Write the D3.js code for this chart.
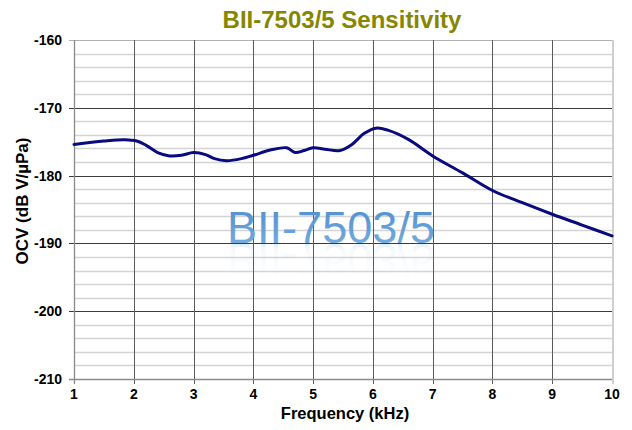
<!DOCTYPE html>
<html>
<head>
<meta charset="utf-8">
<script src="https://cdn.jsdelivr.net/npm/d3@7"></script>
<style>
  body { margin: 0; background: #fff; }
  svg { display: block; }
  text { font-family: "Liberation Sans", Arial, sans-serif; }
</style>
</head>
<body>
<svg id="chart" width="632" height="430"></svg>
<script>
// values
var freq = [1, 1.5, 1.85, 2.05, 2.2, 2.4, 2.6, 2.8, 3.0, 3.2, 3.35, 3.55, 3.8, 4.0, 4.3, 4.56, 4.7, 4.85, 5.0, 5.2, 5.45, 5.65, 5.85, 6.05, 6.25, 6.6, 7.0, 7.5, 8.0, 8.5, 9.0, 9.5, 10];
var ocv = [-175.4, -174.9, -174.7, -174.9, -175.5, -176.6, -177.1, -177.0, -176.6, -176.9, -177.5, -177.8, -177.5, -177.0, -176.2, -175.9, -176.6, -176.3, -175.9, -176.1, -176.3, -175.4, -173.8, -173.0, -173.3, -174.7, -177.1, -179.6, -182.2, -184.0, -185.7, -187.3, -188.9];
var xTicks = [1, 2, 3, 4, 5, 6, 7, 8, 9, 10];
var yTicks = [-210, -200, -190, -180, -170, -160];
var yMinor = d3.range(-208, -160, 2);

var svg = d3.select("#chart");
var pl = 74, pr = 612, pt = 40, pb = 379;

var x = d3.scaleLinear().domain([1, 10]).range([pl, pr]);
var y = d3.scaleLinear().domain([-210, -160]).range([pb, pt]);

// minor horizontal grid
svg.append("g").selectAll("line").data(yMinor.filter(function(d){ return d % 10 != 0; }))
  .enter().append("line")
  .attr("x1", pl).attr("x2", pr)
  .attr("y1", function(d){ return Math.round(y(d)) + 0.5; })
  .attr("y2", function(d){ return Math.round(y(d)) + 0.5; })
  .attr("stroke", "#d4d4d4").attr("stroke-width", 1.3);

// major horizontal grid
svg.append("g").selectAll("line").data(yTicks.slice(1, -1))
  .enter().append("line")
  .attr("x1", pl - 5).attr("x2", pr)
  .attr("y1", function(d){ return Math.round(y(d)) + 0.5; })
  .attr("y2", function(d){ return Math.round(y(d)) + 0.5; })
  .attr("stroke", "#3a3a3a").attr("stroke-width", 1);
svg.append("line").attr("x1", pl - 5).attr("x2", pr)
  .attr("y1", Math.round(y(-160)) + 0.5).attr("y2", Math.round(y(-160)) + 0.5)
  .attr("stroke", "#b0b0b0").attr("stroke-width", 1);

// vertical grid
svg.append("g").selectAll("line").data(xTicks.slice(1, -1))
  .enter().append("line")
  .attr("x1", function(d){ return Math.round(x(d)) + 0.5; })
  .attr("x2", function(d){ return Math.round(x(d)) + 0.5; })
  .attr("y1", pt).attr("y2", pb + 5)
  .attr("stroke", "#5a5a5a").attr("stroke-width", 1);

// right border
svg.append("line").attr("x1", pr + 1).attr("x2", pr + 1)
  .attr("y1", pt).attr("y2", pb + 5)
  .attr("stroke", "#cfcfcf").attr("stroke-width", 2);

// axes lines
svg.append("line").attr("x1", pl + 0.5).attr("x2", pl + 0.5)
  .attr("y1", pt).attr("y2", pb + 5)
  .attr("stroke", "#8a8a8a").attr("stroke-width", 1.3);
svg.append("line").attr("x1", pl - 5).attr("x2", pr)
  .attr("y1", pb + 0.5).attr("y2", pb + 0.5)
  .attr("stroke", "#8a8a8a").attr("stroke-width", 1.5);

// y tick labels
svg.append("g").selectAll("text").data(yTicks)
  .enter().append("text")
  .attr("x", 62).attr("y", function(d){ return y(d) + 5; })
  .attr("text-anchor", "end")
  .attr("font-size", 14).attr("font-weight", "bold")
  .text(function(d){ return d; });

// x tick labels
svg.append("g").selectAll("text").data(xTicks)
  .enter().append("text")
  .attr("x", function(d){ return x(d); }).attr("y", 399)
  .attr("text-anchor", "middle")
  .attr("font-size", 14).attr("font-weight", "bold")
  .text(function(d){ return d; });

// watermark with reflection
var defs = svg.append("defs");
var g1 = defs.append("linearGradient").attr("id", "wm").attr("x1", 0).attr("y1", 0).attr("x2", 0).attr("y2", 1);
g1.append("stop").attr("offset", "0%").attr("stop-color", "#4c8cce");
g1.append("stop").attr("offset", "100%").attr("stop-color", "#7cb1e2");
var g2 = defs.append("linearGradient").attr("id", "wmr").attr("x1", 0).attr("y1", 0).attr("x2", 0).attr("y2", 1);
g2.append("stop").attr("offset", "0%").attr("stop-color", "#9cc5ec").attr("stop-opacity", 0);
g2.append("stop").attr("offset", "70%").attr("stop-color", "#9cc5ec").attr("stop-opacity", 0.1);
g2.append("stop").attr("offset", "100%").attr("stop-color", "#9cc5ec").attr("stop-opacity", 0.6);

var wmX = 331, wmY = 243;
defs.append("text").attr("id", "wmtext")
  .attr("x", wmX).attr("y", wmY)
  .attr("text-anchor", "middle")
  .attr("font-family", "Noto Sans").attr("font-size", 44)
  .attr("textLength", 208).attr("lengthAdjust", "spacingAndGlyphs")
  .text("BII-7503/5");
svg.append("use").attr("href", "#wmtext")
  .attr("transform", "translate(0," + (2 * wmY + 1) + ") scale(1,-1)")
  .attr("fill", "url(#wmr)");
svg.append("text")
  .attr("x", wmX).attr("y", wmY)
  .attr("text-anchor", "middle")
  .attr("font-family", "Noto Sans").attr("font-size", 44)
  .attr("textLength", 208).attr("lengthAdjust", "spacingAndGlyphs")
  .attr("fill", "url(#wm)")
  .text("BII-7503/5");

// curve
var line = d3.line()
  .x(function(d, i){ return x(freq[i]); })
  .y(function(d){ return y(d); })
  .curve(d3.curveCatmullRom.alpha(0.5));
svg.append("path").datum(ocv)
  .attr("d", line)
  .attr("fill", "none")
  .attr("stroke", "#0a0a80").attr("stroke-width", 3)
  .attr("stroke-linejoin", "round").attr("stroke-linecap", "round");

// titles
svg.append("text").attr("x", 342).attr("y", 28)
  .attr("text-anchor", "middle")
  .attr("font-size", 24).attr("font-weight", "bold").attr("fill", "#868600")
  .text("BII-7503/5 Sensitivity");
svg.append("text").attr("x", 345).attr("y", 419)
  .attr("text-anchor", "middle")
  .attr("font-size", 16.5).attr("font-weight", "bold")
  .text("Frequency (kHz)");
svg.append("text")
  .attr("transform", "translate(28,201) rotate(-90)")
  .attr("text-anchor", "middle")
  .attr("font-size", 17).attr("font-weight", "bold")
  .text("OCV (dB V/µPa)");
</script>
</body>
</html>
